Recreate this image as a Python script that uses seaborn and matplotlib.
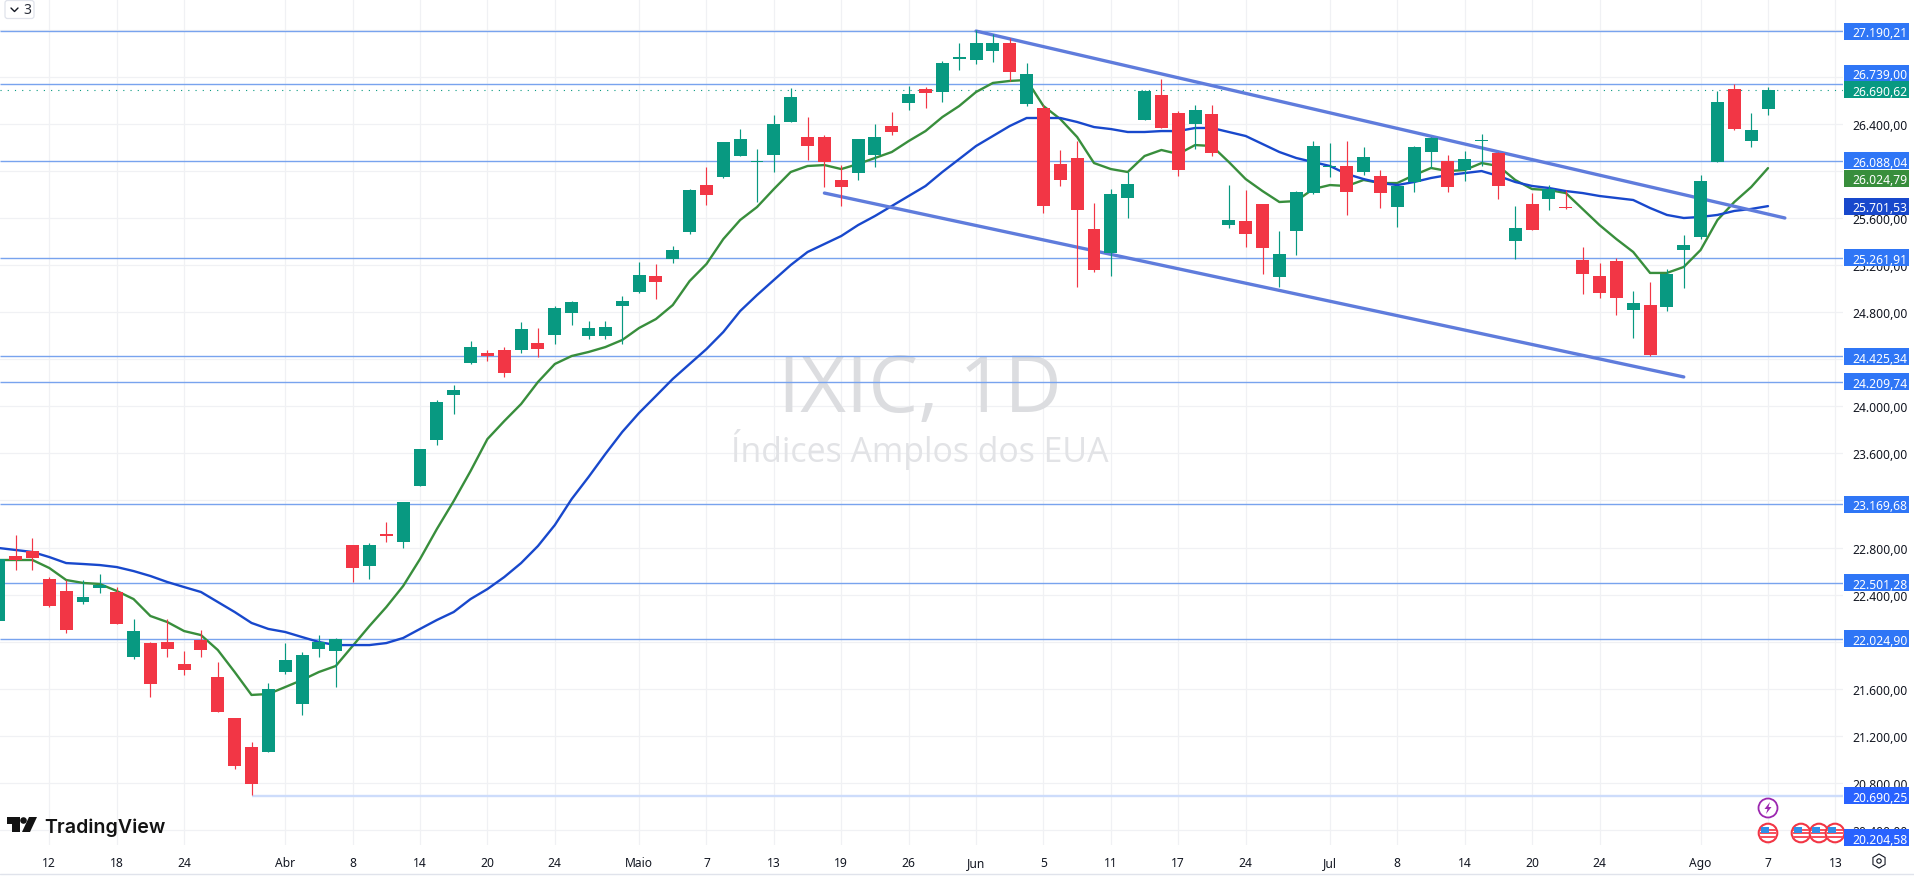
import numpy as np
import pandas as pd
import matplotlib
matplotlib.use("Agg")
import matplotlib.pyplot as plt
from matplotlib.patches import Circle, FancyBboxPatch, Polygon, Rectangle, RegularPolygon
from matplotlib.lines import Line2D
import seaborn as sns

# ---------- data ----------

opens = [22175, 22728, 22770, 22532, 22431, 22337, 22456, 22422, 21869, 21988,
         21997, 21810, 22014, 21699, 21351, 21104, 21062, 21742, 21470, 21937,
         21920, 22821, 22643, 22915, 22847, 23323, 23714, 24096, 24368, 24453,
         24479, 24479, 24539, 24607, 24793, 24598, 24598, 24853, 24972, 25108,
         25252, 25482, 25881, 25949, 26128, 26077, 26136, 26417, 26289, 26289,
         25924, 25983, 26136, 26383, 26579, 26697, 26672, 26952, 26944, 27020,
         27088, 26570, 26536, 26060, 26111, 25507, 25303, 25771, 26434, 26646,
         26493, 26400, 26485, 25541, 25575, 25720, 25099, 25490, 25813, 26034,
         26043, 25992, 25958, 25694, 25907, 26162, 26085, 26009, 26255, 26153,
         25405, 25720, 25762, 25694, 25244, 25108, 25235, 24819, 24861, 24844,
         25329, 25439, 26077, 26697, 26255, 26527]
highs = [22754, 22906, 22881, 22549, 22524, 22524, 22575, 22464, 22192, 21997,
         22192, 21920, 22099, 21827, 21351, 21147, 21648, 21988, 21912, 22056,
         22031, 22821, 22838, 23017, 23187, 23637, 24054, 24181, 24555, 24479,
         24504, 24717, 24666, 24853, 24895, 24725, 24725, 24938, 25227, 25210,
         25363, 25847, 26034, 26247, 26357, 26187, 26476, 26706, 26459, 26306,
         26051, 26272, 26400, 26502, 26723, 26714, 26935, 27088, 27199, 27165,
         27131, 26918, 26561, 26179, 26255, 25728, 25847, 25992, 26689, 26782,
         26510, 26561, 26561, 25881, 25839, 25720, 25490, 25830, 26255, 26238,
         26255, 26204, 26009, 25873, 26213, 26289, 26136, 26170, 26315, 26162,
         25703, 25813, 25881, 25839, 25354, 25218, 25261, 24981, 25057, 25167,
         25456, 25966, 26680, 26740, 26493, 26714]
lows = [22175, 22609, 22609, 22294, 22074, 22320, 22413, 22150, 21852, 21529,
        21869, 21716, 21869, 21402, 20917, 20696, 21062, 21725, 21376, 21869,
        21614, 22507, 22532, 22847, 22796, 23323, 23671, 23935, 24360, 24385,
        24249, 24453, 24420, 24530, 24691, 24572, 24572, 24530, 24963, 24912,
        25218, 25465, 25711, 25941, 26128, 25737, 25992, 26417, 26094, 25864,
        25703, 25924, 26034, 26306, 26519, 26536, 26587, 26859, 26910, 26927,
        26765, 26553, 25643, 25873, 25014, 25142, 25108, 25601, 26434, 26366,
        25958, 26187, 26128, 25516, 25354, 25125, 25014, 25286, 25805, 25949,
        25626, 25966, 25686, 25524, 25822, 26026, 25822, 25915, 26043, 25762,
        25252, 25499, 25669, 25678, 24955, 24921, 24776, 24581, 24427, 24810,
        25006, 25422, 26077, 26349, 26204, 26476]
closes = [22703, 22694, 22711, 22303, 22099, 22380, 22481, 22150, 22090, 21640,
          21937, 21759, 21929, 21402, 20943, 20790, 21597, 21844, 21886, 21997,
          22022, 22626, 22821, 22898, 23187, 23637, 24037, 24139, 24504, 24428,
          24283, 24657, 24488, 24836, 24887, 24666, 24674, 24895, 25116, 25057,
          25329, 25839, 25796, 26247, 26272, 26085, 26400, 26630, 26213, 26077,
          25864, 26272, 26289, 26332, 26655, 26663, 26918, 26969, 27088, 27088,
          26842, 26825, 25703, 25924, 25669, 25159, 25805, 25890, 26680, 26366,
          26009, 26519, 26153, 25584, 25465, 25346, 25295, 25822, 26213, 26043,
          25822, 26119, 25813, 25873, 26204, 26281, 25864, 26102, 26264, 25873,
          25516, 25499, 25847, 25686, 25125, 24963, 24921, 24879, 24436, 25125,
          25371, 25915, 26587, 26357, 26349, 26690]

# 12 Mar is bar 0, the chart opens three bars earlier
bars = list(range(-3, 103))

ema_green = [22694, 22694, 22694, 22626, 22524, 22499, 22490, 22431, 22362, 22218,
             22167, 22090, 22056, 21929, 21742, 21547, 21555, 21614, 21674, 21742,
             21793, 21963, 22133, 22294, 22473, 22702, 22957, 23195, 23450, 23722,
             23875, 24020, 24207, 24360, 24428, 24462, 24504, 24564, 24666, 24742,
             24861, 25065, 25210, 25422, 25584, 25694, 25847, 25992, 26043, 26051,
             26017, 26060, 26111, 26162, 26255, 26340, 26459, 26553, 26672, 26749,
             26766, 26774, 26553, 26442, 26289, 26068, 26017, 25992, 26128, 26179,
             26145, 26221, 26213, 26077, 25932, 25830, 25737, 25745, 25847, 25881,
             25873, 25924, 25898, 25898, 25966, 26026, 26000, 26009, 26068, 26043,
             25924, 25847, 25839, 25813, 25677, 25541, 25422, 25312, 25134, 25134,
             25185, 25329, 25584, 25737, 25864, 26025]
ema_blue = [22796, 22779, 22762, 22719, 22668, 22660, 22651, 22634, 22600, 22558,
            22507, 22464, 22422, 22337, 22252, 22159, 22108, 22082, 22039, 21997,
            21971, 21971, 21971, 21988, 22031, 22108, 22184, 22252, 22362, 22447,
            22549, 22668, 22813, 22991, 23212, 23399, 23595, 23782, 23944, 24088,
            24233, 24360, 24487, 24632, 24810, 24946, 25074, 25201, 25312, 25380,
            25448, 25541, 25618, 25703, 25788, 25873, 25992, 26102, 26213, 26298,
            26383, 26451, 26451, 26451, 26417, 26374, 26357, 26332, 26332, 26340,
            26340, 26366, 26366, 26332, 26298, 26230, 26162, 26111, 26077, 26043,
            25975, 25932, 25898, 25881, 25907, 25941, 25966, 25983, 26000, 25958,
            25907, 25873, 25856, 25830, 25813, 25788, 25771, 25754, 25686, 25627,
            25601, 25610, 25627, 25661, 25678, 25702]

level_prices = [27190.21, 26739.00, 26088.04, 25261.91, 24425.34, 24209.74,
                23169.68, 22501.28, 22024.90]
low_level_price = 20690.25
low_level_start = 12
last_close = 26690.62

upper_x = [55, 103]
upper_y = [27190, 25601]
lower_x = [46, 97]
lower_y = [25813, 24250]

tick_bars = [0, 4, 8, 14, 18, 22, 26, 30, 35, 39, 43, 47, 51, 55, 59, 63, 67, 71,
             76, 80, 84, 88, 92, 98, 102, 106]
tick_names = ["12", "18", "24", "Abr", "8", "14", "20", "24", "Maio", "7", "13", "19",
              "26", "Jun", "5", "11", "17", "24", "Jul", "8", "14", "20", "24", "Ago",
              "7", "13"]
month_names = ["Abr", "Maio", "Jun", "Jul", "Ago"]
price_ticks = list(range(20400, 27600, 400))
# these grid levels have no readable label, a price tag sits right on them
hidden_ticks = [27200, 26800, 26000, 24400, 22000]

# price tags on the axis: value, colour, nudge in pixels (tags get pushed apart)
tag_prices = [27190.21, 26739.00, 26690.62, 26088.04, 26024.79, 25701.53, 25261.91,
              24425.34, 24209.74, 23169.68, 22501.28, 22024.90, 20690.25, 20204.58]
tag_nudges = [0, 11, 0, 0, -10, 0, 0, 0, 0, 0, 0, 0, 0, 15]
TAG_BLUE = "#2f76f6"
tag_colors = [TAG_BLUE, TAG_BLUE, "#089981", TAG_BLUE, "#388e3c", "#1848cc", TAG_BLUE,
              TAG_BLUE, TAG_BLUE, TAG_BLUE, TAG_BLUE, TAG_BLUE, "#2962ff", "#2962ff"]

# ---------- set up ----------

W, H = 1914, 879
sns.set_theme(style="white")
plt.rcParams["font.family"] = ["Noto Sans", "DejaVu Sans"]

fig = plt.figure(figsize=(W / 100, H / 100), dpi=100, facecolor="white")
ax = fig.add_axes([0, 1 - 846 / H, 1843 / W, 846 / H])
ax.set_facecolor("white")
ax.set_xlim(-2.926, 106.45)
ax.set_ylim(20271.5, 27462.5)
for s in ax.spines.values():
    s.set_visible(False)


def px(x, y):
    # screen pixels (y down) to figure fractions
    return x / W, 1 - y / H


def money(p):
    # 26.400,00 style
    return f"{p:,.2f}".replace(",", "X").replace(".", ",").replace("X", ".")


# ---------- grid and axis ----------

ax.set_axisbelow(True)
ax.set_xticks(tick_bars)
ax.set_xticklabels(tick_names)
ax.yaxis.tick_right()
ax.set_yticks(price_ticks)
ax.set_yticklabels(["" if p in hidden_ticks else money(p) for p in price_ticks])
ax.grid(True, color="#f0f1f4", linewidth=0.9)
ax.tick_params(axis="y", length=0, pad=6.4, labelsize=8.7, labelcolor="#131722")
ax.tick_params(axis="x", length=0, pad=7.6, labelsize=8.7, labelcolor="#131722")
for t in ax.get_xticklabels():
    if t.get_text() in month_names:
        t.set_fontweight("bold")

# watermark
wm_x = 920 / 1843
ax.text(wm_x, 1 - 412 / 846, "IXIC, 1D", transform=ax.transAxes, ha="center", va="baseline",
        family="Open Sans", fontsize=57, color="#dcdde0", zorder=1)
ax.text(wm_x, 1 - 462 / 846, "Índices Amplos dos EUA", transform=ax.transAxes, ha="center",
        va="baseline", family="Open Sans", fontsize=24.4, color="#e2e3e6", zorder=1)

# ---------- levels, averages, channel ----------

ax.hlines(level_prices, -2.926, 106.45, color="#78a3ee", linewidth=1.0, zorder=2)
ax.hlines(low_level_price, low_level_start, 106.45, color="#cddcfb", linewidth=1.7, zorder=2)
ax.axhline(last_close, color="#089981", linewidth=0.8, linestyle=(0, (1, 5.5)), zorder=2)

prices = pd.DataFrame({"bar": bars, "green": ema_green, "blue": ema_blue})
sns.lineplot(data=prices, x="bar", y="green", color="#388e3c", linewidth=1.7, estimator=None,
             sort=False, ax=ax, zorder=3)
sns.lineplot(data=prices, x="bar", y="blue", color="#1848cc", linewidth=1.7, estimator=None,
             sort=False, ax=ax, zorder=3)
sns.lineplot(x=upper_x, y=upper_y, color="#5f7cdc", linewidth=2.4, estimator=None, sort=False,
             ax=ax, zorder=3.5)
sns.lineplot(x=lower_x, y=lower_y, color="#5f7cdc", linewidth=2.4, estimator=None, sort=False,
             ax=ax, zorder=3.5)
ax.set_xlabel("")
ax.set_ylabel("")

# ---------- candles ----------

o = np.array(opens)
c = np.array(closes)
colors = np.where(c >= o, "#089981", "#f23645")
ax.vlines(bars, lows, highs, colors=colors, linewidth=0.85, zorder=4)
ax.bar(bars, np.maximum(np.abs(c - o), 8), bottom=np.minimum(o, c), width=0.77, color=colors,
       linewidth=0, zorder=5)

# ---------- icons over the chart ----------


def flag(cx, cy):
    disc = Circle((cx, H - cy), 9.3, transform=None, facecolor="white", edgecolor="#f23645", linewidth=1.5)
    fig.add_artist(disc)
    parts = [Rectangle((cx - 8, H - cy + 2), 16, 1.6, facecolor="#f7525f", transform=None),
             Rectangle((cx - 8, H - cy - 1.2), 16, 2.2, facecolor="#f7525f", transform=None),
             Rectangle((cx - 8, H - cy - 5.4), 16, 2.4, facecolor="#f7525f", transform=None),
             Rectangle((cx - 7, H - cy), 7.5, 6.5, facecolor="#2f8fe8", transform=None)]
    for p in parts:
        p.set_linewidth(0)
        fig.add_artist(p)
        p.set_clip_path(disc)


fig.add_artist(Circle((1768, H - 809), 9.5, transform=None, facecolor="white", edgecolor="#9c27b0", linewidth=1.3))
bolt_shape = [(2, -6), (-3.5, 1), (-0.5, 1), (-2, 6), (3.5, -1), (0.5, -1)]
fig.add_artist(Polygon([(1768 + a, H - 809 - b) for a, b in bolt_shape], transform=None,
                       facecolor="#9c27b0", linewidth=0))
for cx in [1768, 1801, 1819, 1835]:
    flag(cx, 834)

# ---------- price tags ----------

for price, nudge, col in zip(tag_prices, tag_nudges, tag_colors):
    yy = ax.transData.transform((0, price))[1] + nudge
    fig.add_artist(Rectangle((1844, yy - 8.5), 65, 17, transform=None, facecolor=col, linewidth=0))
    fig.text(1852, yy - 0.3, money(price), transform=None, color="white", fontsize=8.7,
             fontweight="semibold", va="center_baseline", ha="left", zorder=3)

# ---------- logo, small button, gear, bottom rule ----------

logo_t = [(7, 818), (19.5, 818), (19.5, 833), (12, 833), (12, 825), (7, 825)]
logo_s = [(29, 818), (37, 818), (30, 833), (22, 833)]
for shape in (logo_t, logo_s):
    fig.add_artist(Polygon([px(a, b) for a, b in shape], transform=fig.transFigure, facecolor="#131313", linewidth=0))
fig.add_artist(Circle((23.5, H - 821.5), 3.3, transform=None, facecolor="#131313", linewidth=0))
fig.text(44 / W, 1 - 832.7 / H, "TradingView", family="Inter", fontweight="semibold", fontsize=14.1,
         color="#131313", va="baseline", ha="left")

fig.add_artist(FancyBboxPatch((5, H - 19.5), 29, 18, boxstyle="round,pad=0,rounding_size=2.5", transform=None,
                              facecolor="white", edgecolor="#e0e3eb", linewidth=0.9))
fig.add_artist(Line2D([11 / W, 14.5 / W, 18 / W], [1 - 9 / H, 1 - 12.5 / H, 1 - 9 / H], color="#131722", linewidth=1.0,
                      transform=fig.transFigure))
fig.text(27 / W, 1 - 10.5 / H, "3", fontsize=10, color="#2a2e39", ha="center", va="center")

fig.add_artist(RegularPolygon((1879, H - 862), 6, radius=7, transform=None, facecolor="white",
                              edgecolor="#131722", linewidth=0.8))
fig.add_artist(Circle((1879, H - 862), 2.2, transform=None, facecolor="white", edgecolor="#131722", linewidth=0.8))
fig.add_artist(Line2D([0, 1], [1 - 875 / H, 1 - 875 / H], color="#e0e3eb", linewidth=1.0, transform=fig.transFigure))

fig.savefig("out.png", dpi=100, facecolor="white")
